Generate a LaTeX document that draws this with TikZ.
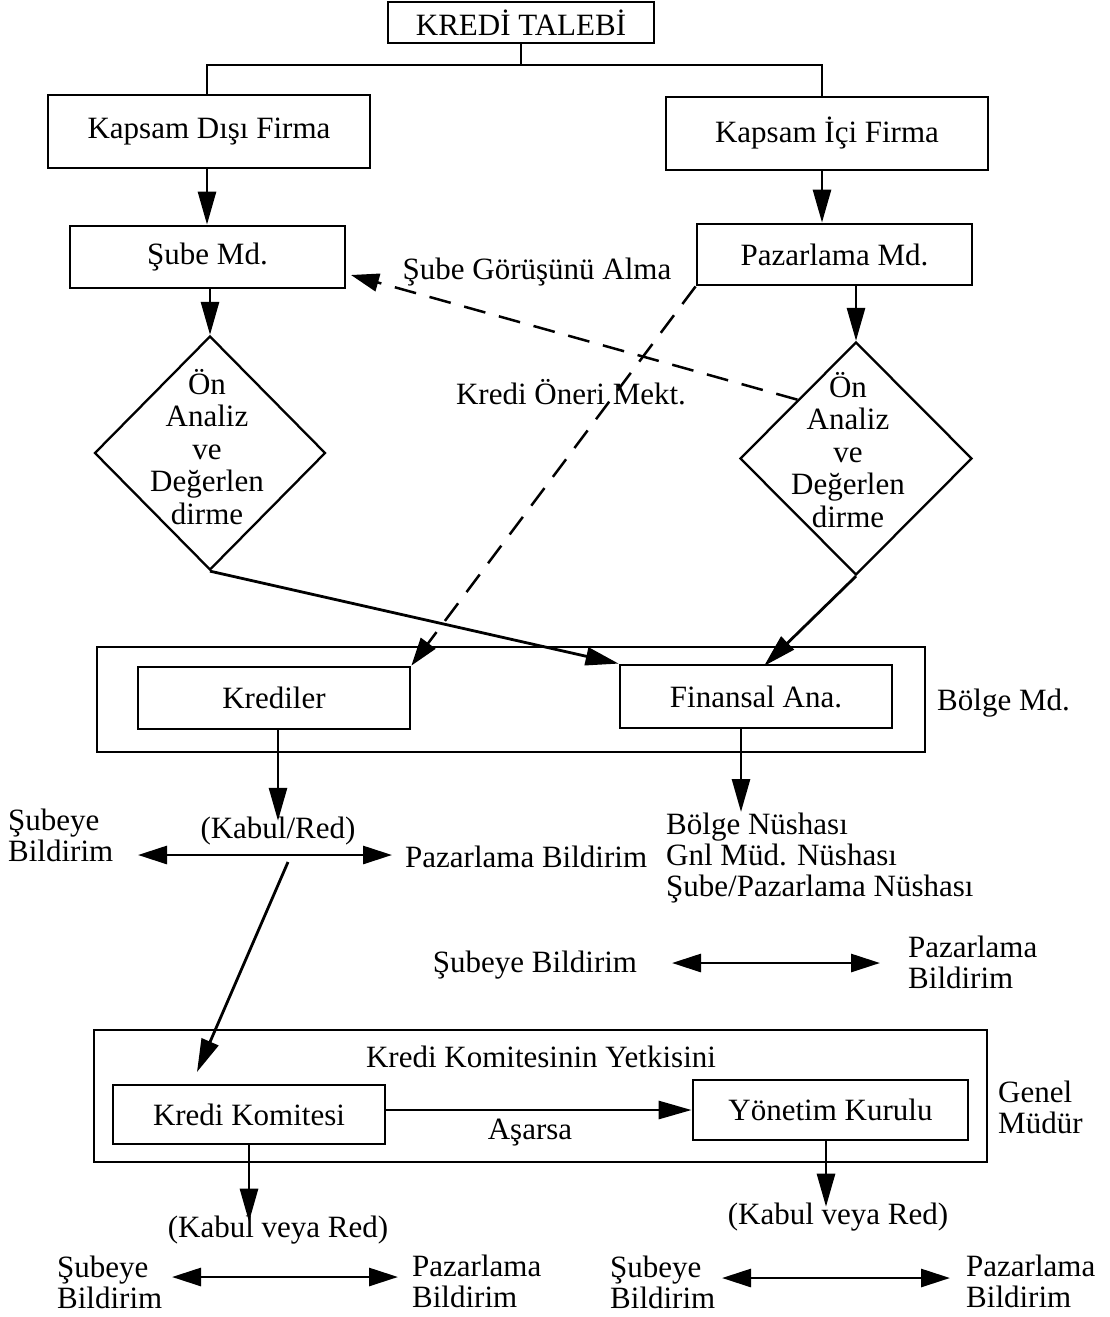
\documentclass[tikz,border=0pt]{standalone}
\usepackage{fontspec}
\setmainfont{Liberation Serif}
\usetikzlibrary{arrows.meta,shapes.geometric,calc}
\begin{document}
\begin{tikzpicture}[x=1pt,y=-1pt,
  every node/.style={font=\fontsize{31}{31}\selectfont},
  box/.style={draw,line width=2.8pt,inner sep=0pt},
  txt/.style={inner sep=0pt},
  dtxt/.style={inner sep=0pt,align=center,font=\fontsize{31}{32.5}\selectfont},
  ln/.style={line width=2.8pt},
  arr/.style={line width=2.8pt,-{Triangle[length=33pt,width=18pt]}},
  darr/.style={line width=2.8pt,{Triangle[length=29pt,width=18pt]}-{Triangle[length=29pt,width=18pt]}},
  dasharr/.style={line width=2.5pt,dash pattern=on 22pt off 14pt,-{Triangle[length=28pt,width=18pt]}}]
\useasboundingbox (0,0) rectangle (1110,1317);

% boxes
\node[box,minimum width=266pt,minimum height=41pt] (talep) at (521,22.5) {KREDİ TALEBİ};
\node[box,minimum width=322pt,minimum height=73pt] (dis) at (209,131.5) {Kapsam Dışı Firma};
\node[box,minimum width=322pt,minimum height=73pt] (ici) at (827,133.5) {Kapsam İçi Firma};
\node[box,minimum width=275pt,minimum height=62pt] (sube) at (207.5,257) {Şube Md.};
\node[box,minimum width=275pt,minimum height=61pt] (paz) at (834.5,254.5) {Pazarlama Md.};
\node[diamond,draw,line width=2.3pt,inner sep=0pt,minimum width=231pt,minimum height=234pt] (d1) at (210,453) {};
\node[diamond,draw,line width=2.3pt,inner sep=0pt,minimum width=232pt,minimum height=233pt] (d2) at (856,458.5) {};
\node[dtxt] (d1t) at (207,447) {Ön\\Analiz\\ve\\Değerlen\\dirme};
\node[dtxt] (d2t) at (848,450) {Ön\\Analiz\\ve\\Değerlen\\dirme};

\node[box,minimum width=828pt,minimum height=105pt] (bolge) at (511,699.5) {};
\node[box,minimum width=272pt,minimum height=62pt] (krediler) at (274,698) {Krediler};
\node[box,minimum width=272pt,minimum height=63pt] (finansal) at (756,696.5) {Finansal Ana.};
\node[txt,anchor=west] (bolgel) at (937,703) {Bölge Md.};

\node[box,minimum width=893pt,minimum height=132pt] (genel) at (540.5,1096) {};
\node[box,minimum width=272pt,minimum height=59pt] (komite) at (249,1114.5) {Kredi Komitesi};
\node[box,minimum width=275pt,minimum height=60pt] (yonetim) at (830.5,1110) {Yönetim Kurulu};
\node[txt,align=left,anchor=west] (genell) at (998,1107) {Genel\\Müdür};
\node[txt] (yetki) at (541,1057) {Kredi Komitesinin Yetkisini};
\node[txt] (asarsa) at (530,1133) {Aşarsa};

% labels
\node[txt] (gorus) at (537,272) {Şube Görüşünü Alma};
\node[txt] (oneri) at (571,392) {Kredi Öneri Mekt.};
\node[txt] (kabul1) at (278,831) {(Kabul/Red)};
\node[txt,align=left,anchor=west] (sb1) at (8,835) {Şubeye\\Bildirim};
\node[txt,anchor=west] (pb1) at (405,857) {Pazarlama Bildirim};
\node[txt,align=left,anchor=west] (nushas) at (666,858) {Bölge Nüshası\\Gnl Müd. Nüshası\\Şube/Pazarlama Nüshası};
\node[txt] (sb2) at (535,965) {Şubeye Bildirim};
\node[txt,align=left,anchor=west] (pb2) at (908,962) {Pazarlama\\Bildirim};
\node[txt] (kv1) at (278,1230) {(Kabul veya Red)};
\node[txt] (kv2) at (838,1217) {(Kabul veya Red)};
\node[txt,align=left,anchor=west] (sb3) at (57,1282) {Şubeye\\Bildirim};
\node[txt,align=left,anchor=west] (pb3) at (412,1281) {Pazarlama\\Bildirim};
\node[txt,align=left,anchor=west] (sb4) at (610,1282) {Şubeye\\Bildirim};
\node[txt,align=left,anchor=west] (pb4) at (966,1281) {Pazarlama\\Bildirim};

% coordinates
\coordinate (split) at (516,65);
\coordinate (gtip) at (351,275);
\coordinate (f2) at (764,666);
\coordinate (kstart) at (288,862);
\coordinate (ktip) at (197,1072);
\coordinate (a1l) at (138,855);
\coordinate (a1r) at (392,855);
\coordinate (a2l) at (672,963);
\coordinate (a2r) at (880,963);
\coordinate (a3l) at (172,1277);
\coordinate (a3r) at (398,1277);
\coordinate (a4l) at (722,1278);
\coordinate (a4r) at (950,1278);
\coordinate (nt) at (741,812);

% connectors
\draw[ln] (split -| talep.south) -- (talep.south);
\draw[ln] (dis.north -| 207,0) |- (split) -| (ici.north -| 822,0);
\draw[arr] (dis.south -| 207,0) -- (sube.north -| 207,0);
\draw[arr] (ici.south -| 822,0) -- (paz.north -| 822,0);
\draw[arr] (d1.north |- sube.south) -- (d1.north);
\draw[arr] (d2.north |- paz.south) -- (d2.north);
\draw[dasharr] (d2.north west) -- (gtip);
\draw[dasharr] (paz.south west) -- (krediler.north east);
\draw[arr] (d1.south) -- (finansal.north west);
\draw[arr] (d2.south) -- (f2);
\draw[arr] (kabul1.north |- krediler.south) -- ([yshift=-4pt]kabul1.north);
\draw[arr] (nt |- finansal.south) -- (nt);
\draw[darr] (a1l) -- (a1r);
\draw[arr] (kstart) -- (ktip);
\draw[darr] (a2l) -- (a2r);
\draw[arr] (yonetim.west -| komite.east) -- (yonetim.west);
\draw[arr] (komite.south) -- ([yshift=-6pt]komite.south |- kv1.north);
\draw[arr] (yonetim.south -| 826,0) -- ([yshift=-4pt]kv2.north -| 826,0);
\draw[darr] (a3l) -- (a3r);
\draw[darr] (a4l) -- (a4r);
\end{tikzpicture}
\end{document}
